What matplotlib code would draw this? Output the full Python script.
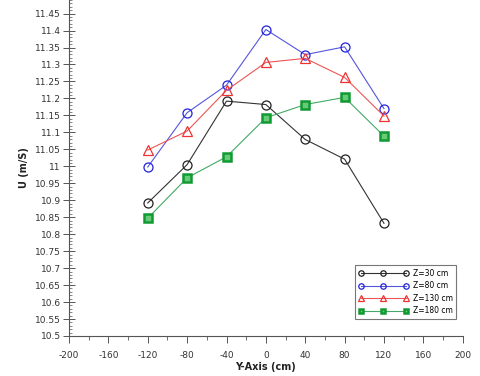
import matplotlib
matplotlib.use('Agg')
import matplotlib.pyplot as plt
from matplotlib.ticker import MultipleLocator, FixedLocator

y_pos = [-120, -80, -40, 0, 40, 80, 120]
u_z30 = [10.892, 11.005, 11.192, 11.182, 11.079, 11.021, 10.832]
u_z80 = [10.998, 11.158, 11.239, 11.403, 11.329, 11.352, 11.170]
u_z130 = [11.048, 11.104, 11.224, 11.306, 11.318, 11.262, 11.148]
u_z180 = [10.847, 10.966, 11.028, 11.143, 11.182, 11.203, 11.089]
labels = ['Z=30 cm', 'Z=80 cm', 'Z=130 cm', 'Z=180 cm']

x_ticks = list(range(-200, 201, 40))
y_ticks = [round(10.5 + 0.05 * i, 2) for i in range(20)]

plt.rcParams['font.family'] = ['DejaVu Sans']
plt.rcParams['axes.unicode_minus'] = False
fig = plt.figure(figsize=(4.81, 3.76), dpi=100)
ax = fig.add_axes([0.1435, 0.1064, 0.8185, 0.8936])

ax.plot(y_pos, u_z30, color='#333333', lw=0.8, marker='o', ms=6.5,
        mfc='none', mec='#222222', mew=0.9, label=labels[0])
ax.plot(y_pos, u_z80, color='#5555dd', lw=0.8, marker='o', ms=6.5,
        mfc='none', mec='#2222dd', mew=0.9, label=labels[1])
ax.plot(y_pos, u_z130, color='#ee5555', lw=0.8, marker='^', ms=6.5,
        mfc='none', mec='#ee3333', mew=0.9, label=labels[2])
ax.plot(y_pos, u_z180, color='#44aa66', lw=0.8, marker='s', ms=5.5,
        mfc='#66cc77', mec='#119933', mew=1.8, label=labels[3])

ax.set_xlim(-200, 200)
ax.set_ylim(10.5, 11.49)
ax.xaxis.set_major_locator(FixedLocator(x_ticks))
ax.xaxis.set_minor_locator(MultipleLocator(20))
ax.yaxis.set_major_locator(FixedLocator(y_ticks))
ax.yaxis.set_minor_locator(MultipleLocator(0.01))
ax.set_yticklabels([('%g' % v) for v in y_ticks])

for s in ['top', 'right']:
    ax.spines[s].set_visible(False)
for s in ['left', 'bottom']:
    ax.spines[s].set_color('#555555')
    ax.spines[s].set_linewidth(0.8)

ax.tick_params(axis='x', which='major', direction='out', length=5, width=0.7,
               colors='#555555', labelsize=6.5, labelcolor='#333333', pad=6)
ax.tick_params(axis='x', which='minor', direction='out', length=3, width=0.6, colors='#555555')
ax.tick_params(axis='y', which='major', direction='inout', length=8, width=0.7,
               colors='#555555', labelsize=6.5, labelcolor='#333333', pad=2)
ax.tick_params(axis='y', which='minor', direction='in', length=2.5, width=0.5, colors='#555555')

ax.set_xlabel('Y-Axis (cm)', fontsize=7, fontweight='bold', labelpad=1, color='#222222')
ax.set_ylabel('U (m/S)', fontsize=7, fontweight='bold', labelpad=4, color='#222222')

leg = ax.legend(loc='lower right', bbox_to_anchor=(0.984, 0.05), borderaxespad=0,
                numpoints=3, markerscale=0.6, fontsize=5.5, fancybox=False,
                framealpha=1, edgecolor='#777777', handlelength=6.5,
                handletextpad=0.6, borderpad=0.5, labelspacing=0.45)
leg.get_frame().set_linewidth(0.8)

fig.savefig('out.png', dpi=100)
